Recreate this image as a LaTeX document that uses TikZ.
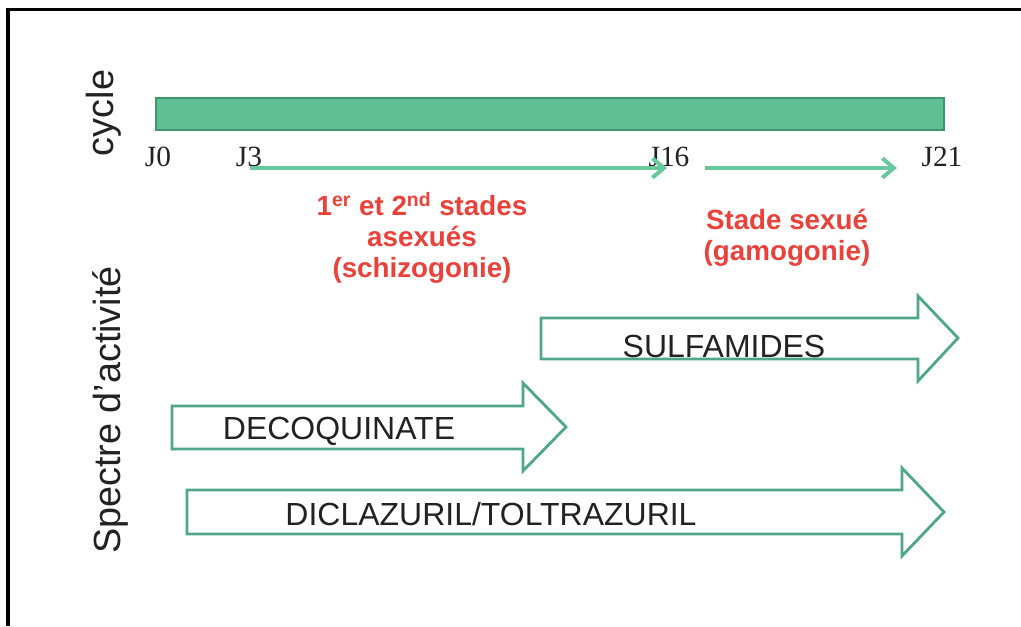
\documentclass[tikz,border=0pt]{standalone}
\usepackage{fontspec}
\setmainfont{Liberation Sans}
\newfontfamily\timesfont{Liberation Serif}
\usetikzlibrary{arrows.meta}

\definecolor{barfill}{RGB}{96,192,148}
\definecolor{bardraw}{RGB}{62,150,108}
\definecolor{stagegreen}{RGB}{104,202,156}
\definecolor{boxgreen}{RGB}{78,168,136}
\definecolor{stagered}{RGB}{234,66,58}
\definecolor{labelgray}{RGB}{34,34,34}

\tikzset{
  daylabel/.style={font=\timesfont\fontsize{16.7}{18}\selectfont, text=labelgray, inner sep=0pt},
  stagearrow/.style={draw=stagegreen, line width=2.3pt, -{Straight Barb[length=6.5pt,width=11pt,line width=2.3pt]}},
  stagetext/.style={font=\bfseries\fontsize{15.8}{17.8}\selectfont, text=stagered, align=center, inner sep=0pt},
  axislabel/.style={font=\fontsize{21.5}{24}\selectfont, text=labelgray, rotate=90, inner sep=0pt},
  drugarrow/.style={draw=boxgreen, line width=1.6pt, fill=white, line join=miter},
  drugtext/.style={font=\fontsize{18.2}{20}\selectfont, text=labelgray, inner sep=0pt},
}

\begin{document}
\begin{tikzpicture}[x=0.02cm, y=-0.02cm]
\useasboundingbox (0,0) rectangle (1021,626);

% frame
\draw[line width=2pt] (8,626) -- (8,9.5) -- (1021,9.5);

% life cycle bar
\draw[draw=bardraw, fill=barfill, line width=1pt] (156,98) rectangle (944,130);

% day marks
\node[daylabel] (j0)  at (158,157) {J0};
\node[daylabel] (j3)  at (249,157) {J3};
\node[daylabel] (j16) at (669,157) {J16};
\node[daylabel] (j21) at (942,157) {J21};

% axis labels
\node[axislabel] (cyc) at (104,113) {cycle};
\node[axislabel] (spec) at (111,410) {Spectre d’activité};

% stage arrows
\coordinate (a1s) at (250,168);
\coordinate (a1e) at (667,168);
\coordinate (a2s) at (705,168);
\coordinate (a2e) at (897,168);
\draw[stagearrow] (a1s) -- (a1e);
\draw[stagearrow] (a2s) -- (a2e);

% stage descriptions
\node[stagetext] (asex) at (422,238) {1\textsuperscript{er} et 2\textsuperscript{nd} stades\\asexués\\(schizogonie)};
\node[stagetext] (sex) at (787,238) {Stade sexué\\(gamogonie)};

% activity spectrum
\draw[drugarrow] (541,318) -- (918,318) -- (918,296) -- (958,338) -- (918,381) -- (918,359) -- (541,359) -- cycle;
\node[drugtext] (sulf) at (724,346) {SULFAMIDES};

\draw[drugarrow] (172,406) -- (523,406) -- (523,383) -- (566,427) -- (523,471) -- (523,449) -- (172,449) -- cycle;
\node[drugtext] (deco) at (339,431) {DECOQUINATE};

\draw[drugarrow] (187,490) -- (902,490) -- (902,468) -- (944,512) -- (902,556) -- (902,534) -- (187,534) -- cycle;
\node[drugtext] (dicl) at (491,514) {DICLAZURIL/TOLTRAZURIL};
\end{tikzpicture}
\end{document}
